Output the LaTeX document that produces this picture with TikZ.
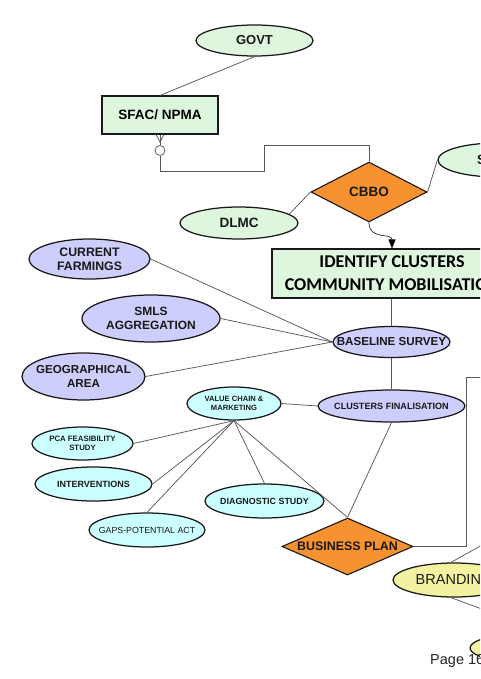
\documentclass[tikz,border=0pt]{standalone}
\usepackage{fontspec}
\setmainfont{Liberation Sans}
\newfontfamily\carl{Carlito}
\usetikzlibrary{shapes.geometric,arrows.meta}
\definecolor{gfill}{RGB}{222,245,222}
\definecolor{lav}{RGB}{206,206,252}
\definecolor{cyn}{RGB}{204,255,255}
\definecolor{org}{RGB}{246,146,48}
\definecolor{yel}{RGB}{242,242,160}
\definecolor{lnc}{RGB}{90,90,90}
\begin{document}
\begin{tikzpicture}[x=1pt,y=-1pt,
  ell/.style={ellipse, draw=black!90, line width=1.25pt, inner sep=0pt},
  box/.style={rectangle, draw=black!90, line width=1.1pt, inner sep=0pt, fill=gfill, align=center},
  dia/.style={diamond, draw=black!90, line width=1.1pt, inner sep=0pt, fill=org},
  txt/.style={align=center, inner sep=0pt, text=black!90},
  conn/.style={draw=lnc, line width=0.75pt}]

\useasboundingbox (0,0) rectangle (480,679);
\clip (0,0) rectangle (480,679);
\fill[white] (0,0) rectangle (480,679);

% nodes
\node[ell, fill=gfill, minimum width=117pt, minimum height=31pt,
  label={[txt,font=\bfseries\fontsize{13}{15}\selectfont]center:GOVT}] (govt) at (254.5,40.5) {};
\node[box, minimum width=116pt, minimum height=38pt, font=\bfseries\fontsize{13.5}{15}\selectfont] (sfac) at (160,115) {SFAC/ NPMA};
\node[circle, draw=lnc, line width=0.75pt, fill=white, minimum size=10pt, inner sep=0pt] (zero) at (160,150.5) {};
\node[dia, minimum width=116pt, minimum height=60pt,
  label={[txt,font=\bfseries\fontsize{13.5}{15}\selectfont]center:CBBO}] (cbbo) at (369,192) {};
\node[ell, fill=gfill, minimum width=118pt, minimum height=32pt,
  label={[txt,font=\bfseries\fontsize{13.5}{15}\selectfont]center:DLMC}] (dlmc) at (239,223) {};
\node[ell, fill=gfill, minimum width=118pt, minimum height=34pt] (sx) at (497,160) {};
\node[txt, anchor=west, font=\bfseries\fontsize{13.5}{15}\selectfont] (slab) at (477,160) {S};
\node[box, minimum width=240pt, minimum height=49pt, font=\carl\bfseries\fontsize{18}{23}\selectfont] (ident) at (392,273.5) {IDENTIFY CLUSTERS\\COMMUNITY MOBILISATION};
\node[ell, fill=lav, minimum width=117pt, minimum height=31pt,
  label={[txt,font=\bfseries\fontsize{11.6}{13}\selectfont]center:BASELINE SURVEY}] (base) at (391.5,342) {};
\node[ell, fill=lav, minimum width=147pt, minimum height=32pt,
  label={[txt,font=\bfseries\fontsize{9.1}{11}\selectfont]center:CLUSTERS FINALISATION}] (clus) at (391.5,406) {};
\node[ell, fill=lav, minimum width=121pt, minimum height=40pt,
  label={[txt,font=\bfseries\fontsize{12.3}{14}\selectfont]center:CURRENT\\FARMINGS}] (cur) at (89.5,259) {};
\node[ell, fill=lav, minimum width=138pt, minimum height=47pt,
  label={[txt,font=\bfseries\fontsize{12}{13.5}\selectfont]center:SMLS\\AGGREGATION}] (smls) at (151,318.5) {};
\node[ell, fill=lav, minimum width=123pt, minimum height=47pt,
  label={[txt,font=\bfseries\fontsize{11.6}{14}\selectfont]center:GEOGRAPHICAL\\AREA}] (geo) at (83.5,376.5) {};
\node[ell, fill=cyn, minimum width=94pt, minimum height=33pt,
  label={[txt,font=\bfseries\fontsize{7.6}{9}\selectfont]center:{VALUE CHAIN \&\\MARKETING}}] (vc) at (234,403.5) {};
\node[ell, fill=cyn, minimum width=101pt, minimum height=33pt,
  label={[txt,font=\bfseries\fontsize{7.8}{9}\selectfont]center:PCA FEASIBILITY\\STUDY}] (pca) at (82.5,443.5) {};
\node[ell, fill=cyn, minimum width=117pt, minimum height=34pt,
  label={[txt,font=\bfseries\fontsize{9}{11}\selectfont]center:INTERVENTIONS}] (inter) at (93.5,484) {};
\node[ell, fill=cyn, minimum width=116pt, minimum height=34pt,
  label={[txt,font=\fontsize{8.8}{11}\selectfont]center:GAPS-POTENTIAL ACT}] (gaps) at (147,530) {};
\node[ell, fill=cyn, minimum width=119pt, minimum height=34pt,
  label={[txt,font=\bfseries\fontsize{8.9}{11}\selectfont]center:DIAGNOSTIC STUDY}] (diag) at (264.5,501) {};
\node[dia, minimum width=131pt, minimum height=57pt,
  label={[txt,font=\bfseries\fontsize{12.4}{14}\selectfont]center:BUSINESS PLAN}] (bp) at (347.5,546.5) {};
\node[ell, fill=yel, minimum width=122pt, minimum height=34pt,
  label={[txt,font=\fontsize{14.5}{16}\selectfont]center:BRANDING}] (brand) at (454,580) {};
\node[ell, fill=yel, minimum width=120pt, minimum height=30pt] (bot) at (530,648) {};
\node[anchor=base west, inner sep=0pt, font=\fontsize{14.5}{16}\selectfont, text=black!85] (page) at (430,664) {Page 16};

% connectors
\draw[conn] (govt.south) -- (sfac.north);
\coordinate (cf) at (160,142);
\draw[conn] ([xshift=-4pt]sfac.south) -- (cf) -- ([xshift=4pt]sfac.south);
\draw[conn] (sfac.south) -- (zero.north);
\coordinate (k1) at (264,171);
\coordinate (k2) at (264,145);
\draw[conn] (zero.south) |- (k1) -- (k2) -| (cbbo.north);
\draw[conn] (dlmc.10) -- (cbbo.west);
\draw[conn] (cbbo.east) -- (sx.west);
\draw[conn, draw=black!80, -{Triangle[length=9pt,width=7pt,color=black]}] (cbbo.south) .. controls +(0,18) and +(0,-16) .. (ident.north);
\draw[conn] (ident.south -| base.north) -- (base.north);
\draw[conn] (cur.east) -- (base.west);
\draw[conn] (smls.east) -- (base.west);
\draw[conn] (geo.east) -- (base.west);
\draw[conn] (base.south) -- (clus.north);
\draw[conn] (vc.east) -- (clus.west);
\draw[conn] (vc.south) -- (pca.east);
\draw[conn] (vc.south) -- (inter.east);
\draw[conn] (vc.south) -- (gaps.north);
\draw[conn] (vc.south) -- (diag.north);
\draw[conn] (vc.south) -- (bp.north);
\draw[conn] (clus.south) -- (bp.north);
\coordinate (k3) at (466,377);
\coordinate (k4) at (500,377);
\draw[conn] (bp.east) -| (k3) -- (k4);
\coordinate (k5) at (500,535);
\draw[conn] (brand.100) -- (k5);
\coordinate (k6) at (520,623);
\draw[conn] (brand.260) -- (k6);
\end{tikzpicture}
\end{document}
